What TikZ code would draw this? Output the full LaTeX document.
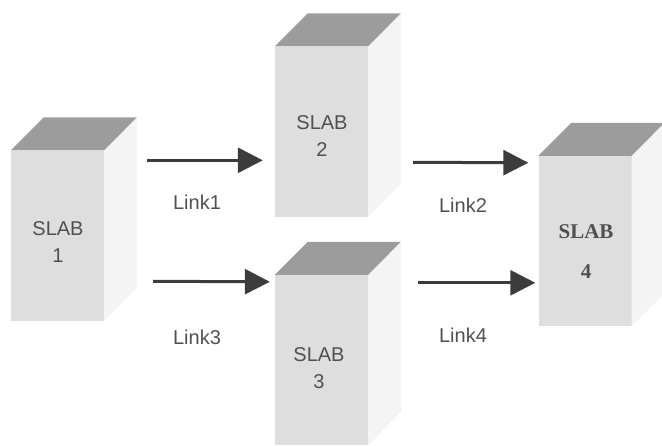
\documentclass[tikz,border=0pt]{standalone}
\usepackage{fontspec}
\setmainfont{Liberation Sans}
\newfontfamily\slabserif{Liberation Serif}
\usetikzlibrary{arrows.meta}

\definecolor{slabfront}{HTML}{DEDEDE}
\definecolor{slabtop}{HTML}{9C9C9C}
\definecolor{slabside}{HTML}{F4F4F4}
\definecolor{linkgray}{HTML}{3C3C3C}
\definecolor{textgray}{HTML}{505050}

\tikzset{
  slab/.style={fill=slabfront, minimum width=93pt, minimum height=170pt, inner sep=0pt},
  slabtext/.style={text=textgray, font=\fontsize{20}{27}\selectfont, align=center},
  link/.style={draw=linkgray, line width=3pt, -{Triangle[length=25pt,width=25pt]}},
  linktext/.style={text=textgray, font=\fontsize{20}{24}\selectfont}
}

% top and side faces of a slab
\newcommand{\slabfaces}[1]{%
  \fill[slabside] (#1.north east) -- ++(33,-33) -- ++(0,170) -- (#1.south east) -- cycle;
  \fill[slabtop] (#1.north west) -- ++(33,-33) -- ++(93,0) -- (#1.north east) -- cycle;
}

\begin{document}
\begin{tikzpicture}[x=1pt,y=-1pt]
  \useasboundingbox (0,0) rectangle (662,445);

  \node[slab] (s1) at (57.5,235.5) {};
  \node[slab] (s2) at (321.5,131.5) {};
  \node[slab] (s3) at (321.5,360) {};
  \node[slab] (s4) at (585,241) {};

  \slabfaces{s1}
  \slabfaces{s2}
  \slabfaces{s3}
  \slabfaces{s4}

  \node[slabtext] (n1) at (58,242) {SLAB\\1};
  \node[slabtext] (n2) at (322,136) {SLAB\\2};
  \node[slabtext] (n3) at (319,368) {SLAB\\3};
  \node[slabtext, font=\slabserif\bfseries\fontsize{21}{40}\selectfont] (n4) at (586,252) {SLAB\\4};

  \draw[link, shorten >=12pt] ([shift={(43,10)}]s1.north east) -- ([shift={(0,114)}]s2.north west);
  \draw[link, shorten >=5pt] ([shift={(49,131)}]s1.north east) -- ([shift={(0,7)}]s3.north west);
  \draw[link, shorten >=10pt] ([shift={(45,116)}]s2.north east) -- ([shift={(0,7)}]s4.north west);
  \draw[link, shorten >=3pt] ([shift={(50,8)}]s3.north east) -- ([shift={(0,127)}]s4.north west);

  \node[linktext] (t1) at (197,202) {Link1};
  \node[linktext] (t2) at (463,205) {Link2};
  \node[linktext] (t3) at (197,337) {Link3};
  \node[linktext] (t4) at (463,335) {Link4};
\end{tikzpicture}
\end{document}
